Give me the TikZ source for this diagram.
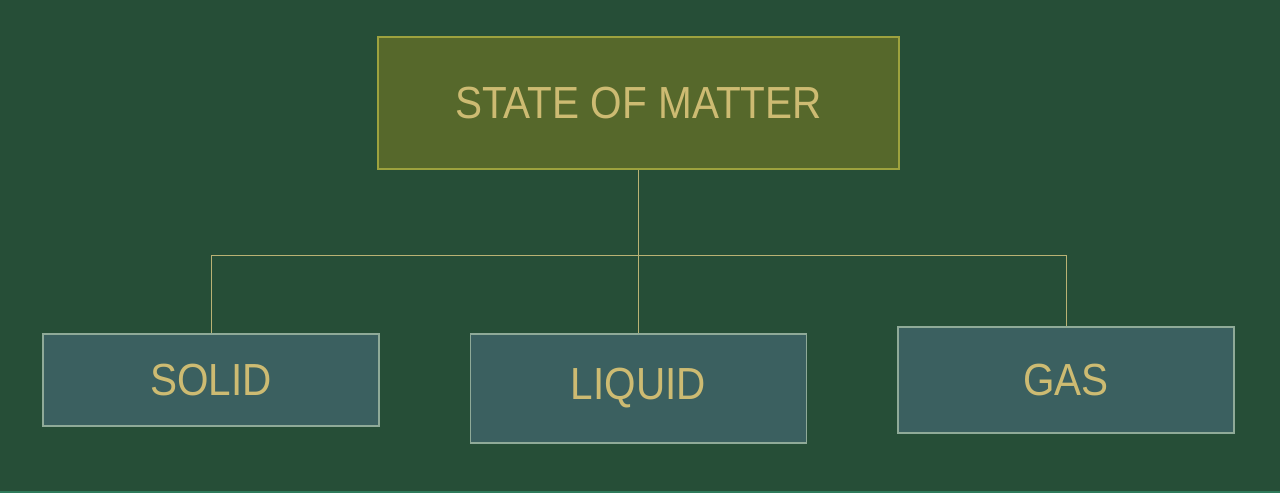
\documentclass[tikz,border=0pt]{standalone}
\usepackage{fontspec}
\setmainfont{Liberation Sans}[FakeStretch=0.9]
\definecolor{bg}{HTML}{264E37}
\definecolor{topfill}{HTML}{56682B}
\definecolor{topline}{HTML}{9DA23E}
\definecolor{boxfill}{HTML}{3B6060}
\definecolor{boxline}{HTML}{8FAA98}
\definecolor{wire}{HTML}{B9B274}
\definecolor{txt}{HTML}{CDBB72}
\definecolor{stripe}{HTML}{2E7A5A}
\begin{document}
\begin{tikzpicture}[x=1pt,y=-1pt,
  topbox/.style={draw=topline,fill=topfill,line width=2pt,inner sep=0pt,
    minimum width=521pt,minimum height=132pt,text=txt,font=\fontsize{45}{50}\selectfont},
  leafbox/.style={draw=boxline,fill=boxfill,line width=1.6pt,inner sep=0pt,
    minimum width=336pt,text=txt,font=\fontsize{45}{50}\selectfont},
  wireline/.style={draw=wire,line width=1pt}]
\fill[bg] (0,0) rectangle (1280,493);
\fill[stripe] (0,490.5) rectangle (1280,493);
\useasboundingbox (0,0) rectangle (1280,493);
\node[topbox] (root) at (638.5,103) {STATE OF MATTER};
\node[leafbox,minimum height=92pt] (solid) at (211,380) {SOLID};
\node[leafbox,minimum height=109pt] (liquid) at (638.5,388.5) {LIQUID};
\node[leafbox,minimum height=106pt] (gas) at (1066,380) {GAS};
\coordinate (jl) at (211,255);
\coordinate (jr) at (1066,255);
\draw[wireline] (root.south) -- (liquid.north);
\draw[wireline] (solid.north) -- (jl) -- (jr) -- (gas.north);
\end{tikzpicture}
\end{document}
